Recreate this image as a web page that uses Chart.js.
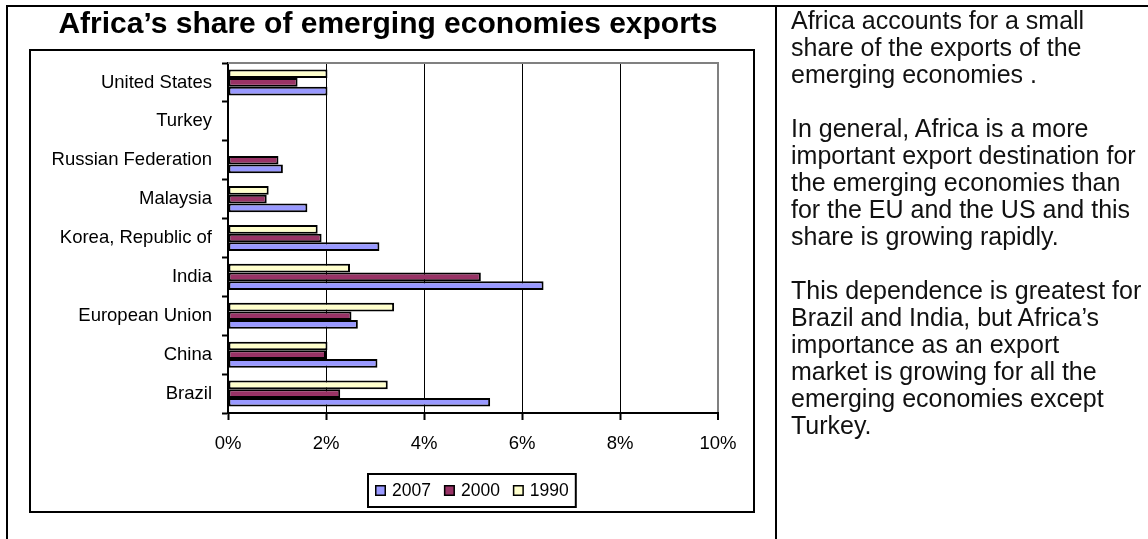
<!DOCTYPE html>
<html>
<head>
<meta charset="utf-8">
<script src="https://cdn.jsdelivr.net/npm/chart.js@4.4.1/dist/chart.umd.min.js"></script>
<style>
  html, body { margin: 0; padding: 0; background: #fff; }
  #page { position: relative; width: 1148px; height: 539px; overflow: hidden; font-family: "Liberation Sans", Arial, sans-serif; color: #000; }
  #chart { position: absolute; left: 0; top: 0; }
  .frame { position: absolute; box-sizing: border-box; pointer-events: none; }
  #outer { left: 6px; top: 5px; width: 1150px; height: 545px; border-top: 2px solid #000; border-left: 2px solid #000; }
  #divider { left: 775px; top: 5px; width: 2px; height: 540px; background: #000; }
  #inner { left: 29px; top: 49px; width: 726px; height: 464px; border: 2px solid #000; }
  #title { position: absolute; left: 0; top: 7px; width: 776px; text-align: center; font-weight: bold; font-size: 30px; line-height: 32px; white-space: nowrap; }
  #notes { position: absolute; left: 791px; top: 7px; font-size: 25px; line-height: 27px; white-space: nowrap; color: #111; }
</style>
</head>
<body>
<div id="page">
  <canvas id="chart" width="1148" height="539"></canvas>
  <div class="frame" id="outer"></div>
  <div class="frame" id="divider"></div>
  <div class="frame" id="inner"></div>
  <div id="title">Africa’s share of emerging economies exports</div>
  <div id="notes">
    Africa accounts for a small<br>
    share of the exports of the<br>
    emerging economies .<br>
    <br>
    In general, Africa is a more<br>
    important export destination for<br>
    the emerging economies than<br>
    for the EU and the US and this<br>
    share is growing rapidly.<br>
    <br>
    This dependence is greatest for<br>
    Brazil and India, but Africa’s<br>
    importance as an export<br>
    market is growing for all the<br>
    emerging economies except<br>
    Turkey.
  </div>
</div>
<script>
// Destinations, listed top to bottom as drawn
const categories = ['United States', 'Turkey', 'Russian Federation', 'Malaysia', 'Korea, Republic of', 'India', 'European Union', 'China', 'Brazil'];

// Africa's share of each economy's exports, in percent
const share1990 = [2.03, null, null, 0.83, 1.83, 2.49, 3.39, 2.03, 3.26];
const share2000 = [1.42, null, 1.03, 0.79, 1.91, 5.16, 2.52, 2.00, 2.29];
const share2007 = [2.03, null, 1.12, 1.62, 3.09, 6.44, 2.65, 3.05, 5.35];

const years = ['1990', '2000', '2007'];
const seriesColors = ['#FFFFCC', '#993366', '#9999FF'];

const axisMin = 0;
const axisMax = 10;
const axisStep = 2;

const FONT = '"Liberation Sans", Arial, sans-serif';

// Gray frame along the top of the plot area
const plotFrame = {
  id: 'plotFrame',
  beforeDatasetsDraw(chart) {
    const { ctx, chartArea: a } = chart;
    ctx.save();
    ctx.strokeStyle = '#808080';
    ctx.lineWidth = 2;
    ctx.beginPath();
    ctx.moveTo(a.left, a.top);
    ctx.lineTo(a.right + 1, a.top);
    ctx.stroke();
    ctx.restore();
  }
};

// Boxed legend centred under the plot, series listed newest first
const boxedLegend = {
  id: 'boxedLegend',
  afterDraw(chart) {
    const { ctx, chartArea: a } = chart;
    const sets = chart.data.datasets.slice().reverse();
    ctx.save();
    ctx.font = '17.5px ' + FONT;
    const sq = 11, gapIn = 6, gapItem = 13, pad = 7, h = 33;
    const widths = sets.map(d => ctx.measureText(d.label).width);
    let total = pad * 2;
    widths.forEach((w, i) => { total += sq + gapIn + w + (i < widths.length - 1 ? gapItem : 0); });
    const cx = (a.left + a.right) / 2 - 1;
    const left = Math.round(cx - total / 2);
    const top = 474;
    ctx.strokeStyle = '#000';
    ctx.lineWidth = 2;
    ctx.strokeRect(left, top, total, h);
    let x = left + pad;
    const mid = top + h / 2;
    sets.forEach((d, i) => {
      ctx.fillStyle = d.backgroundColor;
      ctx.fillRect(x, mid - sq / 2, sq, sq);
      ctx.lineWidth = 1.5;
      ctx.strokeStyle = '#000';
      ctx.strokeRect(x + 0.75, mid - sq / 2 + 0.75, sq - 1.5, sq - 1.5);
      x += sq + gapIn;
      ctx.fillStyle = '#000';
      ctx.textBaseline = 'middle';
      ctx.textAlign = 'left';
      ctx.fillText(d.label, x, mid + 1);
      x += widths[i] + gapItem;
    });
    ctx.restore();
  }
};

const seriesValues = [share1990, share2000, share2007];

new Chart(document.getElementById('chart'), {
  type: 'bar',
  data: {
    labels: categories,
    datasets: years.map((y, i) => ({
      label: y,
      data: seriesValues[i],
      backgroundColor: seriesColors[i],
      borderColor: '#000',
      borderWidth: 2,
      borderSkipped: false,
      barPercentage: 1,
      categoryPercentage: 0.67
    }))
  },
  options: {
    indexAxis: 'y',
    responsive: false,
    animation: false,
    devicePixelRatio: 1,
    layout: { padding: { left: 30, top: 63, right: 430, bottom: 81 } },
    plugins: {
      legend: { display: false },
      tooltip: { enabled: false },
      title: { display: false }
    },
    scales: {
      x: {
        type: 'linear',
        min: axisMin,
        max: axisMax,
        afterFit(scale) { scale.height = 45; },
        ticks: {
          stepSize: axisStep,
          padding: 13,
          color: '#000',
          font: { family: FONT, size: 18.5 },
          callback: v => v + '%'
        },
        grid: {
          drawOnChartArea: true,
          drawTicks: true,
          tickLength: 7,
          tickWidth: 2,
          tickColor: '#000',
          color: c => c.tick && c.tick.value === axisMax ? '#808080' : (c.tick && c.tick.value === axisMin ? 'rgba(0,0,0,0)' : '#000'),
          lineWidth: c => c.tick && c.tick.value === axisMax ? 2 : 1
        },
        border: { display: true, color: '#000', width: 2 }
      },
      y: {
        type: 'category',
        offset: true,
        afterFit(scale) { scale.width = 198; },
        ticks: {
          padding: 10,
          color: '#000',
          font: { family: FONT, size: 18.5 }
        },
        grid: {
          offset: true,
          drawOnChartArea: false,
          drawTicks: true,
          tickLength: 6,
          tickWidth: 2,
          tickColor: '#000',
          color: '#000'
        },
        border: { display: true, color: '#000', width: 2 }
      }
    }
  },
  plugins: [plotFrame, boxedLegend]
});
</script>
</body>
</html>
